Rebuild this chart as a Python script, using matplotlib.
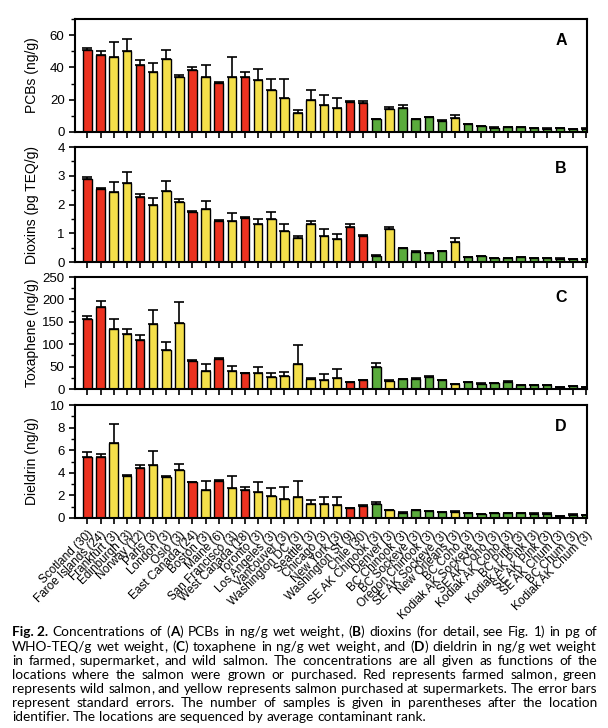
import numpy as np
import matplotlib
matplotlib.use('Agg')
from matplotlib import pyplot as plt
from matplotlib.ticker import MultipleLocator

# Locations (number of samples), in order of average contaminant rank
locations = ['Scotland (30)', 'Faroe Islands (24)', 'Frankfurt (3)', 'Edinburgh (3)', 'Norway (12)',
             'Paris (3)', 'London (3)', 'Oslo (3)', 'East Canada (24)', 'Boston (3)', 'Maine (6)',
             'San Francisco (3)', 'West Canada (18)', 'Toronto (3)', 'Los Angeles (3)',
             'Vancouver (3)', 'Washington DC (3)', 'Seattle (3)', 'Chicago (3)', 'New York (3)',
             'Washington St (9)', 'Chile (30)', 'SE AK Chinook (3)', 'Denver (3)', 'BC Chinook (3)',
             'BC Sockeye (3)', 'Oregon Chinook (3)', 'SE AK Sockeye (3)', 'New Orleans (3)',
             'BC Coho (3)', 'Kodiak AK Sockeye (3)', 'SE AK Coho (3)', 'Kodiak AK Coho (3)',
             'BC Pink (3)', 'Kodiak AK Pink (3)', 'SE AK Pink (3)', 'SE AK Chum (3)', 'BC Chum (3)',
             'Kodiak AK Chum (3)']
# F = farmed, S = supermarket, W = wild
source = ['F', 'F', 'S', 'S', 'F', 'S', 'S', 'S', 'F', 'S', 'F', 'S', 'F', 'S', 'S', 'S', 'S', 'S',
          'S', 'S', 'F', 'F', 'W', 'S', 'W', 'W', 'W', 'W', 'S', 'W', 'W', 'W', 'W', 'W', 'W', 'W',
          'W', 'W', 'W']

pcbs = [50.5, 48, 46.5, 50, 41.5, 37, 45.5, 34, 38.5, 34, 30.5, 34, 34, 32, 26, 21, 12, 20, 17,
        15, 18.5, 18, 7.8, 14.5, 15, 7.8, 9, 7, 8.8, 4.7, 3.5, 2.7, 3, 3, 2.3, 2.1, 2.3, 1.9, 2]
pcbs_se = [1.5, 2, 9, 7.5, 3, 6, 5, 1.5, 2, 7.5, 0.5, 12.5, 3, 7, 7, 12, 1.5, 6, 6, 6, 0.5, 1.5,
           0.3, 0.8, 2, 0.4, 0.4, 0.3, 2, 0.3, 0.2, 0.2, 0.2, 0.2, 0.2, 0.2, 0.2, 0.2, 0.2]

dioxins = [2.88, 2.55, 2.45, 2.76, 2.27, 1.97, 2.48, 2.1, 1.73, 1.86, 1.43, 1.43, 1.52, 1.32, 1.5,
           1.08, 0.82, 1.31, 0.92, 0.79, 1.21, 0.92, 0.21, 1.14, 0.47, 0.36, 0.3, 0.37, 0.7, 0.16,
           0.2, 0.13, 0.13, 0.16, 0.13, 0.13, 0.12, 0.11, 0.1]
dioxins_se = [0.07, 0.03, 0.32, 0.38, 0.08, 0.24, 0.34, 0.1, 0.04, 0.27, 0.03, 0.26, 0.04, 0.16,
              0.25, 0.24, 0.08, 0.12, 0.22, 0.17, 0.1, 0.02, 0.02, 0.08, 0.02, 0.02, 0.02, 0.02,
              0.14, 0.01, 0.01, 0.01, 0.01, 0.01, 0.01, 0.01, 0.01, 0.01, 0.01]

toxaphene = [156, 184, 133, 123, 110, 146, 88, 147, 62, 40, 67, 40, 35, 35, 27, 30, 55, 22, 21,
             25, 15, 19, 50, 18, 22, 23, 27, 19, 10.5, 15, 12, 13.5, 16, 9, 9, 8, 4.5, 6, 4.5]
toxaphene_se = [7, 13, 24, 10, 10, 31, 16, 47, 2, 15, 2, 12, 1.5, 15, 9, 9, 44, 2, 12, 19, 1, 1,
                7, 1, 1, 1, 1, 1, 1, 1, 1, 1, 1, 1, 1, 1, 0.5, 0.5, 0.5]

dieldrin = [5.4, 5.4, 6.6, 3.7, 4.4, 4.7, 3.6, 4.25, 3.15, 2.5, 3.3, 2.65, 2.45, 2.3, 1.95, 1.7,
            1.9, 1.2, 1.2, 1.15, 0.85, 1.1, 1.27, 0.69, 0.47, 0.72, 0.6, 0.5, 0.55, 0.45, 0.33,
            0.4, 0.43, 0.43, 0.37, 0.37, 0.2, 0.3, 0.28]
dieldrin_se = [0.4, 0.25, 1.7, 0.1, 0.3, 1.2, 0.1, 0.55, 0.06, 0.8, 0.07, 1.1, 0.3, 0.9, 0.7,
               1.05, 1.35, 0.35, 0.65, 0.75, 0.03, 0.08, 0.12, 0.03, 0.03, 0.03, 0.03, 0.03,
               0.03, 0.03, 0.03, 0.03, 0.03, 0.03, 0.03, 0.03, 0.02, 0.02, 0.02]

COLORS = {'F': '#ec3220', 'S': '#f4df4a', 'W': '#5aab3c'}
plt.rcParams['font.family'] = ['Liberation Sans', 'DejaVu Sans']

panels = [
    ('A', pcbs, pcbs_se, 'PCBs (ng/g)', 70, 20, 10),
    ('B', dioxins, dioxins_se, 'Dioxins (pg TEQ/g)', 4, 1, 0.5),
    ('C', toxaphene, toxaphene_se, 'Toxaphene (ng/g)', 250, 50, 25),
    ('D', dieldrin, dieldrin_se, 'Dieldrin (ng/g)', 10, 2, 1),
]
# axes boxes in pixels (top, bottom) for a 608x728 figure
boxes = [(19, 132), (147, 262), (277, 389), (405, 518)]

W, H = 608, 728
fig = plt.figure(figsize=(W / 100, H / 100), dpi=100)
x = np.arange(len(locations))
bar_colors = [COLORS[s] for s in source]

for (letter, vals, se, ylabel, ymax, major, minor), (top, bot) in zip(panels, boxes):
    ax = fig.add_axes([75 / W, 1 - bot / H, (587 - 75) / W, (bot - top) / H])
    ax.bar(x, vals, width=0.65, color=bar_colors, edgecolor='black', linewidth=1.0, zorder=2)
    ax.errorbar(x, vals, yerr=[np.zeros(len(vals)), se], fmt='none', ecolor='black',
                elinewidth=1.2, capsize=3.5, capthick=1.2, zorder=3)
    ax.set_xlim(-0.95, len(x) - 0.95)
    ax.set_ylim(0, ymax)
    ax.yaxis.set_major_locator(MultipleLocator(major))
    ax.yaxis.set_minor_locator(MultipleLocator(minor))
    ax.set_xticks(x)
    ax.tick_params(axis='both', which='major', direction='out', length=4.5, width=1.2,
                   labelsize=9.5, pad=3)
    ax.tick_params(axis='y', which='minor', direction='out', length=3, width=1.0)
    for sp in ax.spines.values():
        sp.set_linewidth(1.5)
    ax.set_ylabel(ylabel, fontsize=10)
    ax.yaxis.set_label_coords(-0.07, 0.5)
    ax.text(0.949, 0.814, letter, transform=ax.transAxes, fontsize=11.5, fontweight='bold',
            ha='center', va='center')
    if letter == 'D':
        ax.set_xticklabels(locations, rotation=45, ha='right', rotation_mode='anchor',
                           fontsize=8.5)
    else:
        ax.set_xticklabels([])

# Caption, justified line by line; text between * is bold
caption = [
    "*Fig.~2.* Concentrations of (*A*) PCBs in ng/g wet weight, (*B*) dioxins (for detail, see Fig. 1) in pg of",
    "WHO-TEQ/g wet weight, (*C*) toxaphene in ng/g wet weight, and (*D*) dieldrin in ng/g wet weight",
    "in farmed, supermarket, and wild salmon. The concentrations are all given as functions of the",
    "locations where the salmon were grown or purchased. Red represents farmed salmon, green",
    "represents wild salmon, and yellow represents salmon purchased at supermarkets. The error bars",
    "represent standard errors. The number of samples is given in parentheses after the location",
    "identifier. The locations are sequenced by average contaminant rank.",
]
CAP_FONT = ['Lato', 'Roboto', 'DejaVu Sans']
fig.canvas.draw()
renderer = fig.canvas.get_renderer()


def text_width(s, bold, size):
    t = fig.text(0, 0, s, fontsize=size, family=CAP_FONT,
                 fontweight='bold' if bold else 'normal')
    w = t.get_window_extent(renderer).width
    t.remove()
    return w


def layout_word(word, size):
    """Split a word into (text, bold, advance) runs.

    A trailing comma gets its own run so the word keeps the line's baseline;
    its offset is taken from the width of the joined text.
    """
    runs = []
    parts = word.replace('~', ' ').split('*')
    for k, p in enumerate(parts):
        if not p:
            continue
        bold = k % 2 == 1
        if p.endswith(',') and len(p) > 1:
            wc = text_width(',', bold, size)
            runs.append((p[:-1], bold, text_width(p, bold, size) - wc))
            runs.append((',', bold, wc))
        else:
            runs.append((p, bold, text_width(p, bold, size)))
    return runs


left_px, right_px = 12, 597
# pick the size so the widest line fits at natural spacing
base = 10.0
sp0 = text_width('a a', False, base) - text_width('aa', False, base)
widest = 0
for line in caption:
    ws = [layout_word(w, base) for w in line.split(' ')]
    wsum = sum(r[2] for w in ws for r in w) + sp0 * (len(ws) - 1)
    widest = max(widest, wsum)
CAP_SIZE = min(base * (right_px - left_px) * 0.99 / widest, 10.0)
space_w = text_width('a a', False, CAP_SIZE) - text_width('aa', False, CAP_SIZE)

y0, dy = 636.5, 14.1
for i, line in enumerate(caption):
    words = [layout_word(w, CAP_SIZE) for w in line.split(' ')]
    widths = [sum(r[2] for r in w) for w in words]
    if i < len(caption) - 1 and len(words) > 1:
        gap = (right_px - left_px - sum(widths)) / (len(words) - 1)
    else:
        gap = space_w
    xp = left_px
    y = 1 - round(y0 + i * dy) / H
    for w, ww in zip(words, widths):
        xr = xp
        for s, b, rw in w:
            fig.text(xr / W, y, s, fontsize=CAP_SIZE, family=CAP_FONT,
                     fontweight='bold' if b else 'normal', va='baseline', ha='left')
            xr += rw
        xp += ww + gap

fig.savefig('out.png', dpi=100)
